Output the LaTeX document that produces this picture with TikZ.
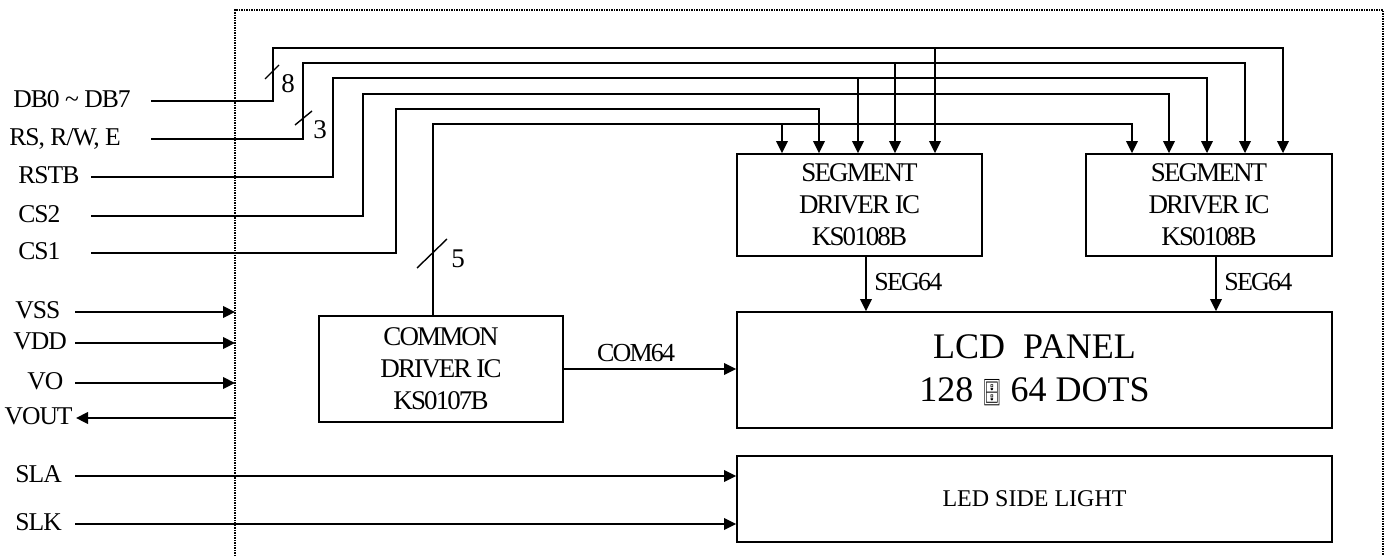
\documentclass[tikz,border=0pt]{standalone}
\usepackage{fontspec}
\setmainfont{Liberation Serif}
\newfontfamily\condfont[LetterSpace=-4]{Liberation Serif}
\newfontfamily\boxfont[LetterSpace=-7]{Liberation Serif}
\newfontfamily\emofont{Noto Emoji}
\usetikzlibrary{arrows.meta}
\tikzset{
  wire/.style={line width=0.9pt},
  arr/.style={wire,-{Triangle[length=6pt,width=5.8pt]}},
  border/.style={line width=0.65pt,dash pattern=on 0.65pt off 0.6pt},
  lbl/.style={inner sep=0pt,font=\condfont\fontsize{12.8}{14}\selectfont,text height=0.66em,text depth=0pt},
  busnum/.style={inner sep=0pt,font=\fontsize{13.5}{15}\selectfont},
  icbox/.style={draw,line width=0.9pt,inner sep=0pt,align=center,font=\boxfont\fontsize{13.5}{16}\selectfont},
  siglbl/.style={inner sep=0pt,font=\boxfont\fontsize{13}{15}\selectfont}
}
\begin{document}
\begin{tikzpicture}[x=0.5pt,y=-0.5pt]
\useasboundingbox (0,0) rectangle (1391,556);
% dotted module border
\draw[border] (235,556) -- (235,10) -- (1383,10) -- (1383,556);

% blocks
\node[icbox,minimum width=122.5pt,minimum height=51pt] (seg1) at (859.5,205) {SEGMENT\\DRIVER IC\\KS0108B};
\node[icbox,minimum width=123pt,minimum height=51pt] (seg2) at (1209,205) {SEGMENT\\DRIVER IC\\KS0108B};
\node[icbox,minimum width=122pt,minimum height=53pt] (com) at (441,369) {COMMON\\DRIVER IC\\KS0107B};
\node[draw,line width=0.9pt,inner sep=0pt,align=center,minimum width=297.5pt,minimum height=58pt,font=\fontsize{18}{21.5}\selectfont] (lcd) at (1034.5,370)
  {LCD\ \ PANEL\\128 {\emofont\scalebox{0.42}[0.72]{🗄}} 64 DOTS};
\node[icbox,font=\fontsize{12}{14}\selectfont,minimum width=297.5pt,minimum height=43pt] (led) at (1034.5,499) {LED SIDE LIGHT};

% left labels
\node[lbl,anchor=west] (db) at (13,101) {DB0 \char`\~{} DB7};
\node[lbl,anchor=west] (rs) at (9,139) {RS, R/W, E};
\node[lbl,anchor=west] (rstb) at (18,177) {RSTB};
\node[lbl,anchor=west] (cs2) at (18,216) {CS2};
\node[lbl,anchor=west] (cs1) at (18,253) {CS1};
\node[lbl,anchor=west] (vss) at (15,312) {VSS};
\node[lbl,anchor=west] (vdd) at (13,343) {VDD};
\node[lbl,anchor=west] (vo) at (27,383) {VO};
\node[lbl,anchor=east] (vout) at (73,418) {VOUT};
\node[lbl,anchor=west] (sla) at (15,476) {SLA};
\node[lbl,anchor=west] (slk) at (15,524) {SLK};

% start / bend coordinates
\coordinate (dbs) at (151,101);  \coordinate (dbb) at (273,48);
\coordinate (rss) at (151,139);  \coordinate (rsb) at (303,63);
\coordinate (rsts) at (91,177);  \coordinate (rstbb) at (333,78);
\coordinate (cs2s) at (91,216);  \coordinate (cs2b) at (363,94);
\coordinate (cs1s) at (91,253);  \coordinate (cs1b) at (396,109);
\coordinate (c5) at (433,124);
% tap x positions
\coordinate (t1a) at (782,0);  \coordinate (t1b) at (819,0);  \coordinate (t1c) at (858,0);
\coordinate (t1d) at (895,0);  \coordinate (t1e) at (935,0);
\coordinate (t2a) at (1132,0); \coordinate (t2b) at (1169,0); \coordinate (t2c) at (1207,0);
\coordinate (t2d) at (1245,0); \coordinate (t2e) at (1283,0);

% DB0~DB7 bus
\draw[arr] (dbs) -- (dbs -| dbb) -- (dbb) -- (dbb -| t2e) -- (t2e |- seg2.north);
\draw[arr] (dbb -| t1e) -- (t1e |- seg1.north);
% RS, R/W, E bus
\draw[arr] (rss) -- (rss -| rsb) -- (rsb) -- (rsb -| t2d) -- (t2d |- seg2.north);
\draw[arr] (rsb -| t1d) -- (t1d |- seg1.north);
% RSTB
\draw[arr] (rsts) -- (rsts -| rstbb) -- (rstbb) -- (rstbb -| t2c) -- (t2c |- seg2.north);
\draw[arr] (rstbb -| t1c) -- (t1c |- seg1.north);
% CS2
\draw[arr] (cs2s) -- (cs2s -| cs2b) -- (cs2b) -- (cs2b -| t2b) -- (t2b |- seg2.north);
% CS1
\draw[arr] (cs1s) -- (cs1s -| cs1b) -- (cs1b) -- (cs1b -| t1b) -- (t1b |- seg1.north);
% common driver control bus
\draw[arr] (c5 |- com.north) -- (c5) -- (c5 -| t2a) -- (t2a |- seg2.north);
\draw[arr] (c5 -| t1a) -- (t1a |- seg1.north);

% bus width marks
\coordinate (s8a) at (265,79); \coordinate (s8b) at (279,65);
\coordinate (s3a) at (295,125); \coordinate (s3b) at (312,111);
\coordinate (s5a) at (417,268); \coordinate (s5b) at (447,239);
\draw[line width=0.7pt] (s8a) -- (s8b);
\draw[line width=0.7pt] (s3a) -- (s3b);
\draw[line width=0.7pt] (s5a) -- (s5b);
\node[busnum] (n8) at (288,84) {8};
\node[busnum] (n3) at (320,130) {3};
\node[busnum] (n5) at (458,259) {5};

% SEG64 outputs
\coordinate (g1) at (866,0); \coordinate (g2) at (1216,0);
\draw[arr] (g1 |- seg1.south) -- (g1 |- lcd.north);
\draw[arr] (g2 |- seg2.south) -- (g2 |- lcd.north);
\node[siglbl,anchor=west] (sg1) at (874,282) {SEG64};
\node[siglbl,anchor=west] (sg2) at (1224,282) {SEG64};

% COM64
\draw[arr] (com.east) -- (com.east -| lcd.west);
\node[siglbl] (cm) at (636,353) {COM64};

% power pins
\coordinate (vsss) at (75,312); \coordinate (vdds) at (75,343); \coordinate (vos) at (75,383);
\coordinate (edge) at (235,0);
\draw[arr] (vsss) -- (vsss -| edge);
\draw[arr] (vdds) -- (vdds -| edge);
\draw[arr] (vos) -- (vos -| edge);
\draw[arr] (vout.east -| edge) -- ([xshift=1.5pt]vout.east);

% side light
\coordinate (slas) at (75,476); \coordinate (slks) at (75,524);
\draw[arr] (slas) -- (slas -| led.west);
\draw[arr] (slks) -- (slks -| led.west);
\end{tikzpicture}
\end{document}
